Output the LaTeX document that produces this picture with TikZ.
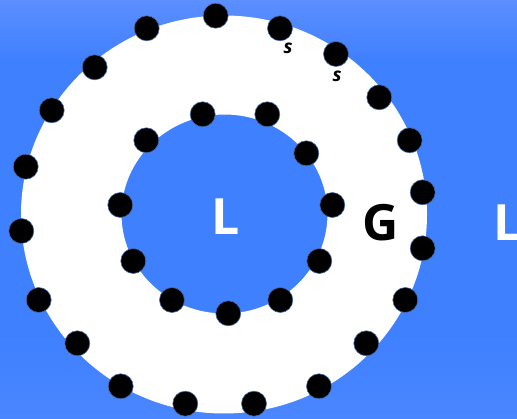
\documentclass[tikz,border=0pt]{standalone}
\usepackage{fontspec}
\setmainfont{Open Sans}
\usepackage{tikz}
\definecolor{bgtop}{RGB}{92,143,255}
\definecolor{bgmid}{RGB}{63,128,255}
\definecolor{bgbot}{RGB}{74,134,255}
\definecolor{dotrim}{RGB}{70,110,170}
\tikzset{
  dot/.style={circle, fill=black, draw=dotrim, line width=0.6pt, minimum size=25pt, inner sep=0pt},
  biglbl/.style={font=\fontsize{50}{50}\selectfont\bfseries, inner sep=0pt, anchor=base},
  slbl/.style={font=\fontsize{19}{19}\selectfont\bfseries\itshape, inner sep=0pt}
}
\begin{document}
\begin{tikzpicture}[x=1pt, y=-1pt]
\useasboundingbox (0,0) rectangle (517,419);
\fill[bgmid] (0,0) rectangle (517,419);
\shade[top color=bgtop, bottom color=bgmid] (0,0) rectangle (517,60);
\shade[top color=bgmid, bottom color=bgbot] (0,330) rectangle (517,419);
\fill[white, even odd rule] (224,214.5) ellipse [x radius=203, y radius=199]
  (224.5,214) ellipse [x radius=103, y radius=99.5];
\foreach \x/\y [count=\i] in {215.7/15.7, 280/28.3, 336/54, 379.3/97.3, 409.7/140.3,
  422.7/192.3, 422.7/248.3, 405.3/300, 366.3/343.3, 319/386.3, 254/403.7,
  185.3/403.7, 120.7/386.3, 77.3/343.3, 38.7/300, 21.3/231, 25.7/166.7,
  51.7/110.3, 94.7/67.3, 146.7/28.3}
  \node[dot] (out\i) at (\x,\y) {};
\foreach \x/\y [count=\i] in {202.7/114.3, 267.3/114.3, 306.3/153.3, 332.3/205,
  319.3/261, 280.3/300, 228.3/313.3, 172/300, 133.3/261, 120.3/205, 146.3/140.3}
  \node[dot] (in\i) at (\x,\y) {};
\node[slbl] (s1) at (288,48) {s};
\node[slbl] (s2) at (337,76) {s};
\node[biglbl, white] (lin) at (226,235) {L};
\node[biglbl, black] (g) at (381,241) {G};
\node[biglbl, white] (lout) at (508,240.5) {L};
\end{tikzpicture}
\end{document}
